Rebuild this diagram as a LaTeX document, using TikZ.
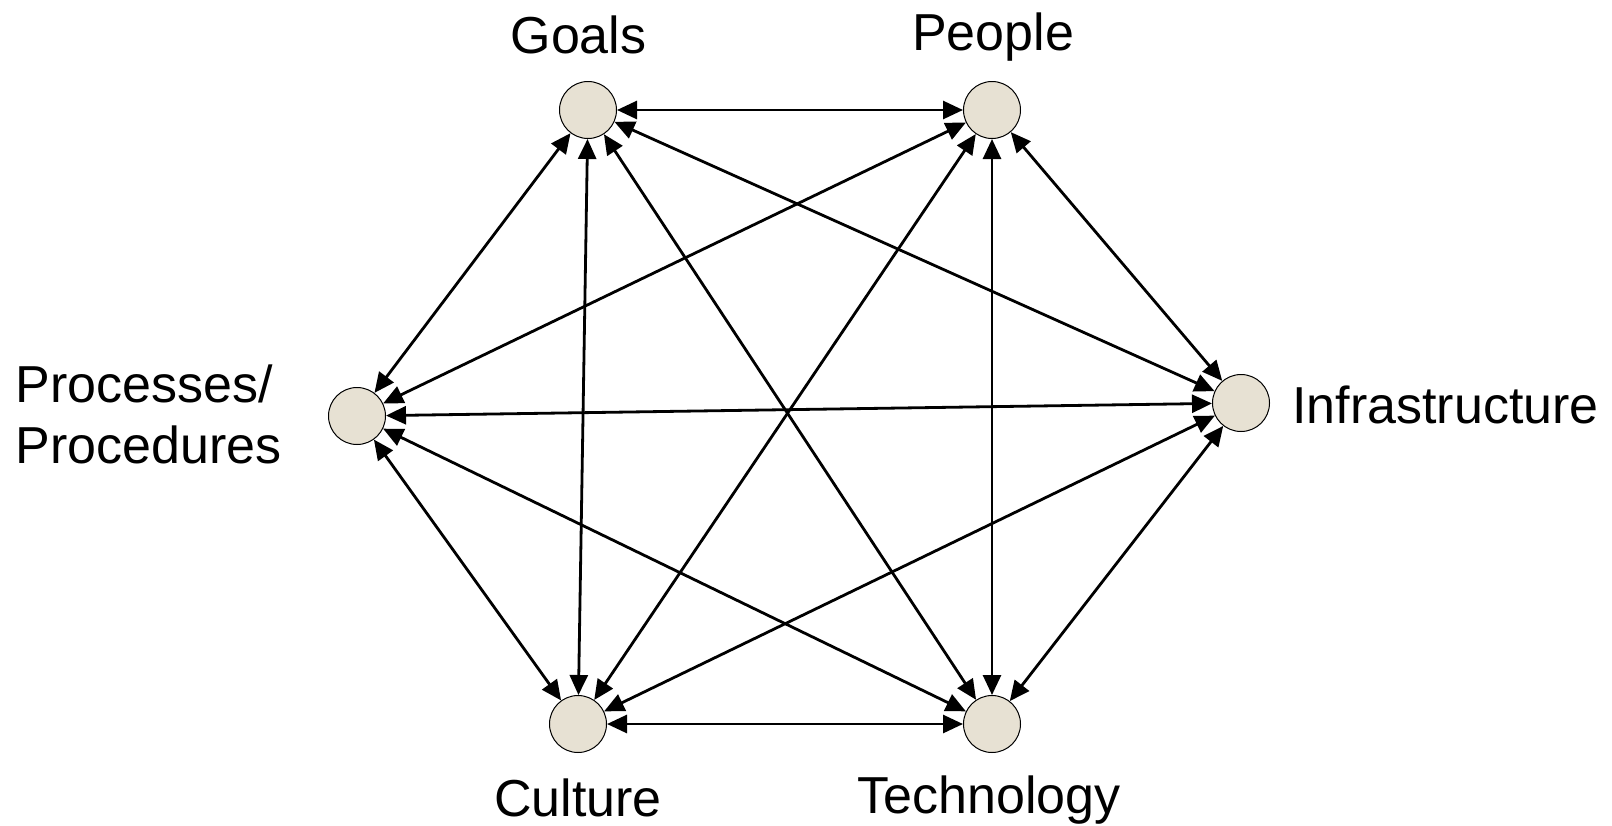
\documentclass[tikz,border=0pt]{standalone}
\usepackage{fontspec}
\setmainfont{Liberation Sans}
\usetikzlibrary{arrows.meta}
\definecolor{dotfill}{RGB}{231,225,211}
\begin{document}
\begin{tikzpicture}[x=0.5pt,y=0.5pt,yscale=-1,xscale=1,
  dot/.style={circle,draw,line width=0.5pt,fill=dotfill,minimum size=28.5pt,inner sep=0pt},
  link/.style={arrows={Triangle[length=10pt,width=9pt]-Triangle[length=10pt,width=9pt]},line width=1.4pt},
  lbl/.style={inner sep=0pt,font=\fontsize{26}{30.5}\selectfont}]
\useasboundingbox (0,0) rectangle (1612,825);

%Shape: Circle [goals]
\node [dot] (goals) at (588,110) {};
%Shape: Circle [people]
\node [dot] (people) at (992,110) {};
%Shape: Circle [procs]
\node [dot] (procs) at (357,416) {};
%Shape: Circle [infra]
\node [dot] (infra) at (1241,403) {};
%Shape: Circle [culture]
\node [dot] (culture) at (578,724) {};
%Shape: Circle [tech]
\node [dot] (tech) at (992,724) {};

%Straight Lines
\draw [link] (goals) -- (people) ;
\draw [link] (goals) -- (procs) ;
\draw [link] (goals) -- (infra) ;
\draw [link] (goals) -- (culture) ;
\draw [link] (goals) -- (tech) ;
\draw [link] (people) -- (procs) ;
\draw [link] (people) -- (infra) ;
\draw [link] (people) -- (culture) ;
\draw [link] (people) -- (tech) ;
\draw [link] (procs) -- (infra) ;
\draw [link] (procs) -- (culture) ;
\draw [link] (procs) -- (tech) ;
\draw [link] (infra) -- (culture) ;
\draw [link] (infra) -- (tech) ;
\draw [link] (culture) -- (tech) ;

% Text Node
\node [lbl,anchor=base] (goalslbl) at (578.5,53) {Goals};
% Text Node
\node [lbl,anchor=base] (peoplelbl) at (993,50) {People};
% Text Node
\node [lbl,anchor=base west,align=left] (procslbl) at (15,463) {Processes/\\Procedures};
% Text Node
\node [lbl,anchor=base west] (infralbl) at (1292,423) {Infrastructure};
% Text Node
\node [lbl,anchor=base] (culturelbl) at (578,816) {Culture};
% Text Node
\node [lbl,anchor=base] (techlbl) at (989,813) {Technology};
\end{tikzpicture}
\end{document}
